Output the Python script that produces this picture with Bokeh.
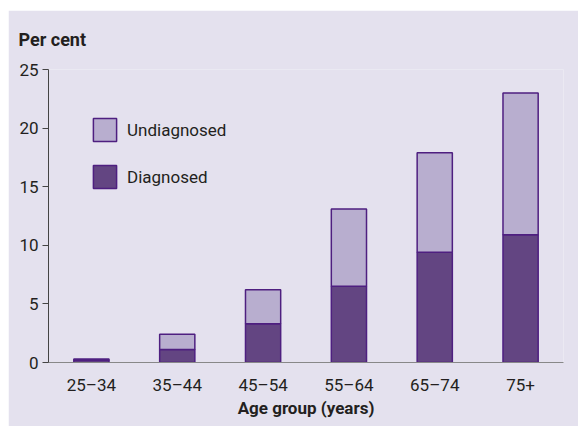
from bokeh.plotting import figure
from bokeh.models import Legend, LegendItem, FixedTicker, Range1d, FactorRange
from bokeh.embed import file_html
from bokeh.resources import INLINE

categories = ["25–34", "35–44", "45–54", "55–64", "65–74", "75+"]
diagnosed = [0.2, 1.1, 3.3, 6.5, 9.4, 10.9]
undiagnosed = [0.1, 1.3, 2.9, 6.6, 8.5, 12.1]
y_ticks = [0, 5, 10, 15, 20, 25]

BG = "#e4e1ee"
FONT = "Roboto"
TXT = "#231f20"

p = figure(x_range=FactorRange(*categories, range_padding=0), y_range=Range1d(0, 25),
           frame_width=515, frame_height=293, output_backend="svg", toolbar_location=None,
           min_border_left=40, min_border_right=15, min_border_top=59, min_border_bottom=64)
p.margin = (10, 0, 0, 8)
p.background_fill_color = BG
p.border_fill_color = BG
p.outline_line_color = None
p.grid.visible = False

source = dict(cat=categories, Diagnosed=diagnosed, Undiagnosed=undiagnosed)
rs = p.vbar_stack(["Diagnosed", "Undiagnosed"], x="cat", width=0.41, source=source,
                  fill_color=["#634582", "#b8aecf"], line_color="#4e1f80", line_width=1.5)

legend = Legend(items=[LegendItem(label="Undiagnosed", renderers=[rs[1]]),
                       LegendItem(label="Diagnosed", renderers=[rs[0]])],
                location=(42, 171), orientation="vertical")
legend.glyph_width = 29
legend.glyph_height = 29
legend.label_height = 29
legend.spacing = 18
legend.padding = 0
legend.margin = 0
legend.label_standoff = 8
legend.border_line_color = None
legend.background_fill_alpha = 0
legend.label_text_font = FONT
legend.label_text_font_size = "17px"
legend.label_text_color = TXT
p.add_layout(legend)

p.yaxis.ticker = FixedTicker(ticks=y_ticks)
p.yaxis.minor_tick_line_color = None
p.yaxis.major_tick_in = 0
p.yaxis.major_tick_out = 6
p.yaxis.axis_line_color = "#444444"
p.yaxis.major_tick_line_color = "#444444"
p.yaxis.major_label_standoff = 4
p.yaxis.major_label_text_font = FONT
p.yaxis.major_label_text_font_size = "17px"
p.yaxis.major_label_text_color = TXT

p.xaxis.major_tick_line_color = None
p.xaxis.axis_line_color = "#888888"
p.xaxis.major_label_standoff = 6
p.xaxis.major_label_text_font = FONT
p.xaxis.major_label_text_font_size = "17px"
p.xaxis.major_label_text_color = TXT
p.xaxis.axis_label = "Age group (years)"
p.xaxis.axis_label_text_font = FONT
p.xaxis.axis_label_text_font_style = "bold"
p.xaxis.axis_label_text_font_size = "17px"
p.xaxis.axis_label_text_color = TXT
p.xaxis.axis_label_standoff = 0

p.title.text = "Per cent"
p.title.align = "left"
p.title.vertical_align = "top"
p.title.offset = -30
p.title.standoff = 35
p.title.text_font = FONT
p.title.text_font_style = "bold"
p.title.text_font_size = "18px"
p.title.text_color = TXT

open("out.html", "w").write(file_html(p, INLINE))
